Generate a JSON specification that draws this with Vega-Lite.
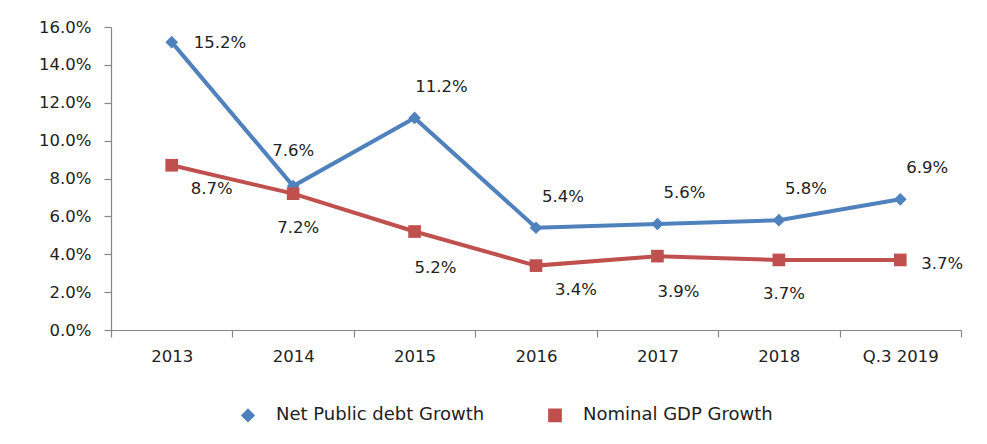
{
  "$schema": "https://vega.github.io/schema/vega-lite/v6.json",
  "width": 850,
  "height": 303,
  "autosize": {"type": "none"},
  "padding": {"left": 111, "top": 27, "right": 26, "bottom": 114},
  "background": "white",
  "config": {
    "view": {"stroke": null},
    "font": "DejaVu Sans",
    "axis": {"domainColor": "#868686", "tickColor": "#868686", "labelColor": "#222222", "labelFont": "DejaVu Sans", "grid": false, "tickSize": 7, "domainWidth": 1.2, "tickWidth": 1.2},
    "text": {"fontSize": 16.5, "color": "#222222", "baseline": "middle"}
  },
  "data": {
    "values": [
      {"period": "2013", "series": "Net Public debt Growth", "value": 0.152},
      {"period": "2014", "series": "Net Public debt Growth", "value": 0.076},
      {"period": "2015", "series": "Net Public debt Growth", "value": 0.112},
      {"period": "2016", "series": "Net Public debt Growth", "value": 0.054},
      {"period": "2017", "series": "Net Public debt Growth", "value": 0.056},
      {"period": "2018", "series": "Net Public debt Growth", "value": 0.058},
      {"period": "Q.3 2019", "series": "Net Public debt Growth", "value": 0.069},
      {"period": "2013", "series": "Nominal GDP Growth", "value": 0.087},
      {"period": "2014", "series": "Nominal GDP Growth", "value": 0.072},
      {"period": "2015", "series": "Nominal GDP Growth", "value": 0.052},
      {"period": "2016", "series": "Nominal GDP Growth", "value": 0.034},
      {"period": "2017", "series": "Nominal GDP Growth", "value": 0.039},
      {"period": "2018", "series": "Nominal GDP Growth", "value": 0.037},
      {"period": "Q.3 2019", "series": "Nominal GDP Growth", "value": 0.037}
    ]
  },
  "encoding": {
    "x": {
      "field": "period", "type": "nominal", "sort": null, "title": null,
      "scale": {"type": "band", "paddingInner": 0, "paddingOuter": 0},
      "axis": {"labelAngle": 0, "tickBand": "extent", "labelPadding": 11, "labelFontSize": 16.5}
    },
    "y": {
      "field": "value", "type": "quantitative", "title": null,
      "scale": {"domain": [0, 0.16], "nice": false},
      "axis": {"format": ".1%", "values": [0, 0.02, 0.04, 0.06, 0.08, 0.1, 0.12, 0.14, 0.16], "labelPadding": 13, "labelFontSize": 16.5}
    },
    "color": {
      "field": "series", "type": "nominal", "title": null,
      "scale": {"domain": ["Net Public debt Growth", "Nominal GDP Growth"], "range": ["#4F81BD", "#C0504D"]},
      "legend": {"orient": "none", "legendX": 128, "legendY": 379, "direction": "horizontal", "labelFontSize": 18, "labelFont": "DejaVu Sans", "labelColor": "#222222", "labelLimit": 400, "symbolSize": 150, "columnPadding": 60, "labelOffset": 19, "symbolOpacity": 1}
    }
  },
  "layer": [
    {
      "mark": {"type": "line", "strokeWidth": 4}
    },
    {
      "mark": {"type": "point", "filled": true, "opacity": 1, "size": 160},
      "encoding": {
        "shape": {
          "field": "series", "type": "nominal", "title": null,
          "scale": {"domain": ["Net Public debt Growth", "Nominal GDP Growth"], "range": ["diamond", "square"]},
          "legend": {"orient": "none", "legendX": 128, "legendY": 379, "direction": "horizontal", "labelFontSize": 18, "labelFont": "DejaVu Sans", "labelColor": "#222222", "labelLimit": 400, "symbolSize": 150, "columnPadding": 60, "labelOffset": 19, "symbolOpacity": 1}
        }
      }
    },
    {
      "transform": [{"filter": "datum.series == 'Net Public debt Growth' && datum.period == '2014'"}],
      "mark": {"type": "text", "dx": 0, "dy": -35, "align": "center"},
      "encoding": {"text": {"field": "value", "type": "quantitative", "format": ".1%"}, "color": {"value": "#222222"}}
    },
    {
      "transform": [{"filter": "datum.series == 'Net Public debt Growth' && datum.period != '2013' && datum.period != '2014'"}],
      "mark": {"type": "text", "dx": 27, "dy": -31, "align": "center"},
      "encoding": {"text": {"field": "value", "type": "quantitative", "format": ".1%"}, "color": {"value": "#222222"}}
    },
    {
      "transform": [{"filter": "datum.series == 'Net Public debt Growth' && datum.period == '2013'"}],
      "mark": {"type": "text", "dx": 22, "dy": 1, "align": "left"},
      "encoding": {"text": {"field": "value", "type": "quantitative", "format": ".1%"}, "color": {"value": "#222222"}}
    },
    {
      "transform": [{"filter": "datum.series == 'Nominal GDP Growth' && (datum.period == '2014' || datum.period == '2018')"}],
      "mark": {"type": "text", "dx": 5, "dy": 34, "align": "center"},
      "encoding": {"text": {"field": "value", "type": "quantitative", "format": ".1%"}, "color": {"value": "#222222"}}
    },
    {
      "transform": [{"filter": "datum.series == 'Nominal GDP Growth' && (datum.period == '2013' || datum.period == '2016')"}],
      "mark": {"type": "text", "dx": 40, "dy": 24, "align": "center"},
      "encoding": {"text": {"field": "value", "type": "quantitative", "format": ".1%"}, "color": {"value": "#222222"}}
    },
    {
      "transform": [{"filter": "datum.series == 'Nominal GDP Growth' && (datum.period == '2015' || datum.period == '2017')"}],
      "mark": {"type": "text", "dx": 21, "dy": 36, "align": "center"},
      "encoding": {"text": {"field": "value", "type": "quantitative", "format": ".1%"}, "color": {"value": "#222222"}}
    },
    {
      "transform": [{"filter": "datum.series == 'Nominal GDP Growth' && datum.period == 'Q.3 2019'"}],
      "mark": {"type": "text", "dx": 21, "dy": 4, "align": "left"},
      "encoding": {"text": {"field": "value", "type": "quantitative", "format": ".1%"}, "color": {"value": "#222222"}}
    }
  ]
}
